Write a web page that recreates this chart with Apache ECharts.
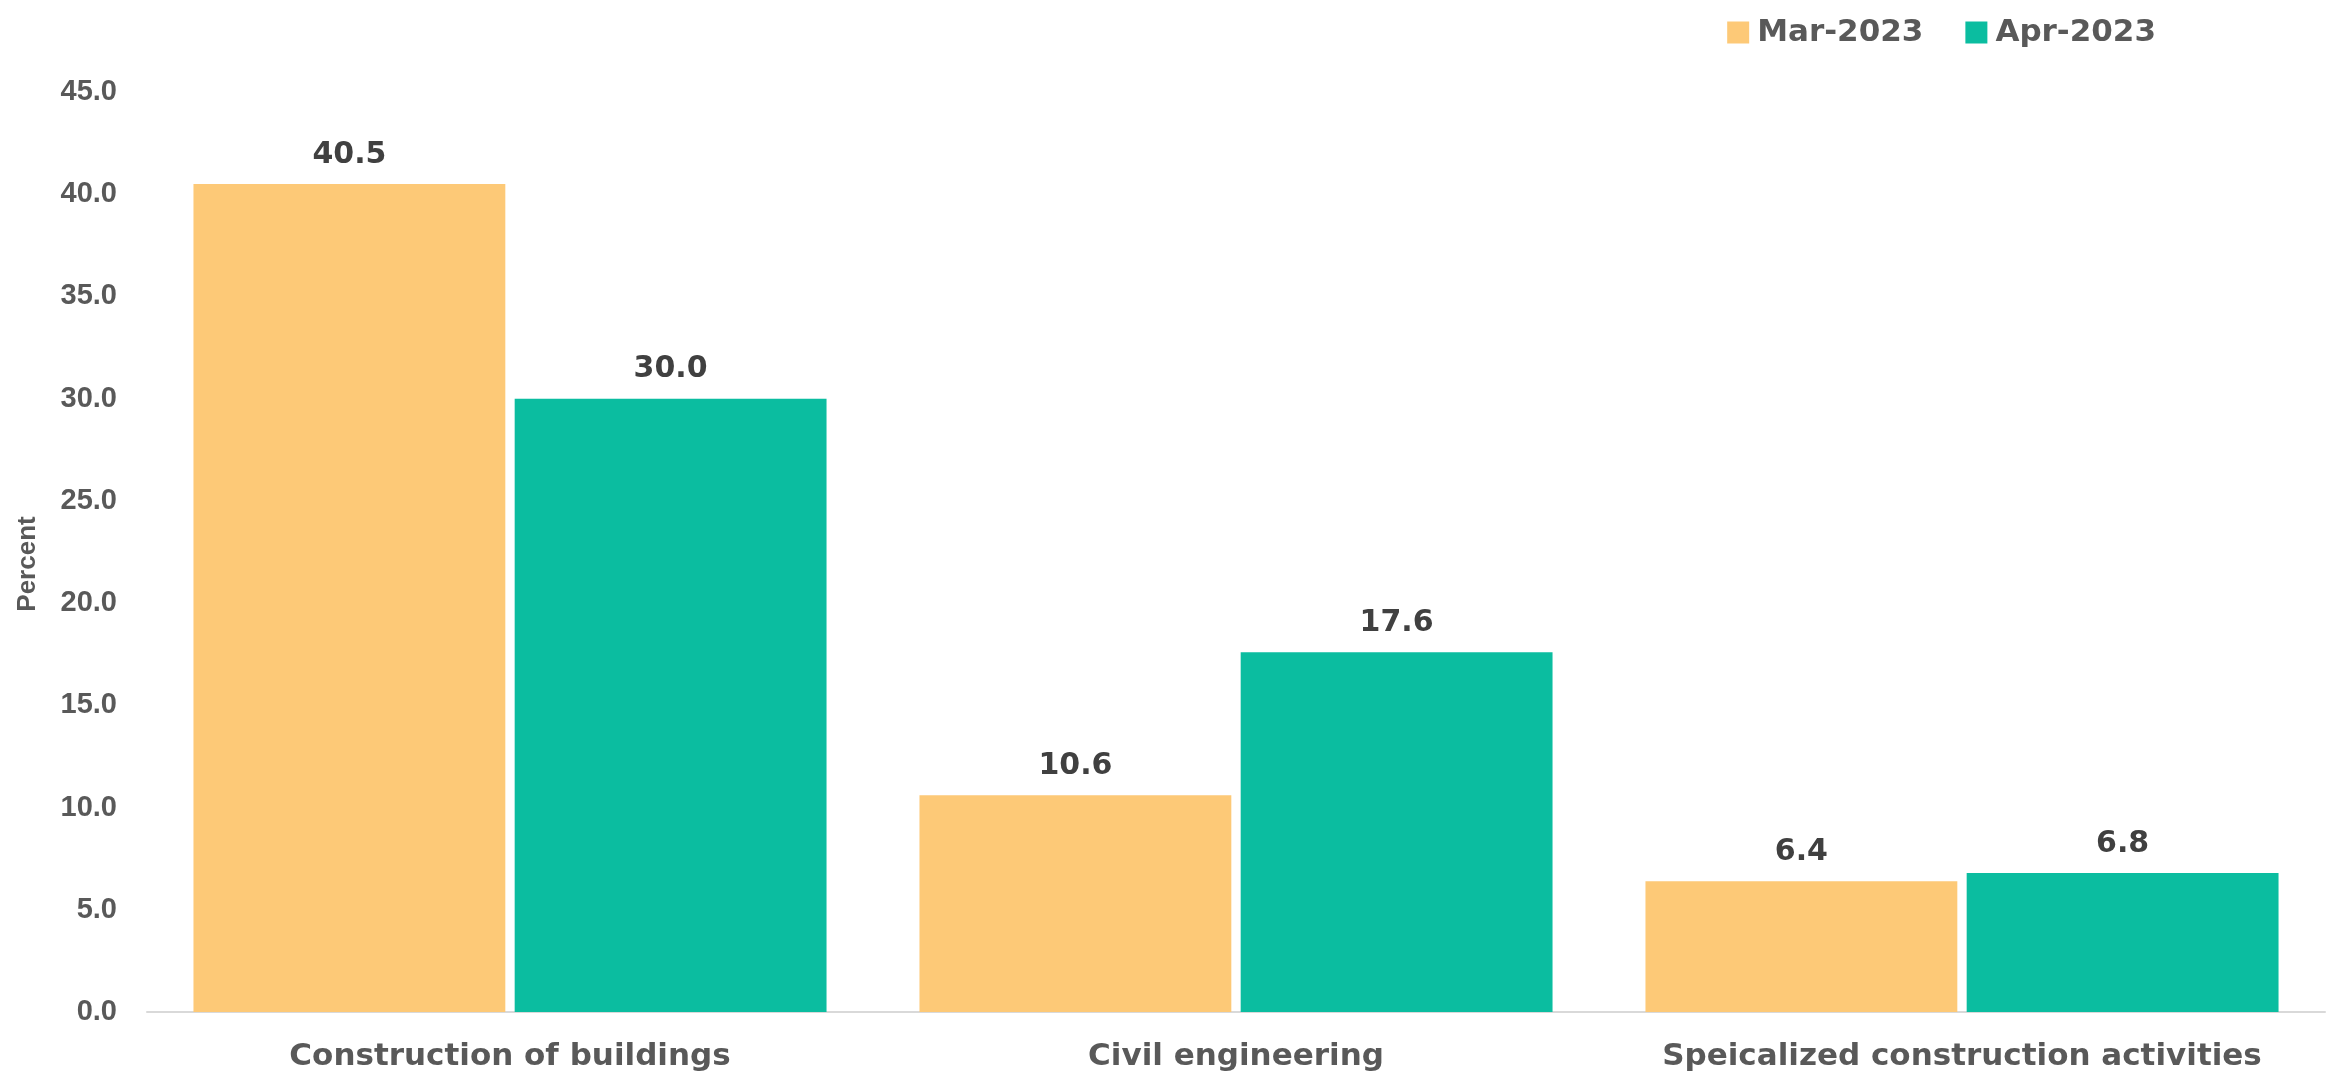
<!DOCTYPE html>
<html>
<head>
<meta charset="utf-8">
<script src="https://cdn.jsdelivr.net/npm/echarts@6/dist/echarts.min.js"></script>
<style>
  html, body { margin: 0; padding: 0; background: #ffffff; }
  #chart { width: 2333px; height: 1078px; }
</style>
</head>
<body>
<div id="chart"></div>
<script>
// Construction output share by activity, two months
const categories = ['Construction of buildings', 'Civil engineering', 'Speicalized construction activities'];
const seriesNames = ['Mar-2023', 'Apr-2023'];
const marValues = [40.5, 10.6, 6.4];
const aprValues = [30.0, 17.6, 6.8];
const seriesColors = ['#FDC977', '#0BBDA0'];

const labelFont = '"DejaVu Sans", sans-serif';
const tickFont = '"Liberation Sans", Arial, sans-serif';

const chart = echarts.init(document.getElementById('chart'));

function barSeries(name, values, color) {
  return {
    name: name,
    type: 'bar',
    data: values,
    itemStyle: { color: color },
    barGap: '3%',
    barCategoryGap: '12.8%',
    label: {
      show: true,
      position: 'top',
      distance: 14,
      formatter: p => p.value.toFixed(1),
      color: '#404040',
      fontFamily: labelFont,
      fontWeight: 'bold',
      fontSize: 30
    }
  };
}

chart.setOption({
  animation: false,
  backgroundColor: '#ffffff',
  legend: {
    data: seriesNames,
    top: 12,
    right: 172,
    itemWidth: 22,
    itemHeight: 22,
    itemGap: 42,
    icon: 'rect',
    textStyle: {
      color: '#595959',
      fontFamily: labelFont,
      fontWeight: 'bold',
      fontSize: 31,
      padding: [0, 0, 0, 3]
    }
  },
  grid: { left: 147, right: 8, top: 92, bottom: 66, containLabel: false },
  xAxis: {
    type: 'category',
    data: categories,
    axisLine: { lineStyle: { color: '#D9D9D9', width: 2 } },
    axisTick: { show: false },
    axisLabel: {
      interval: 0,
      color: '#595959',
      fontFamily: labelFont,
      fontWeight: 'bold',
      fontSize: 31,
      margin: 29
    }
  },
  yAxis: {
    type: 'value',
    min: 0,
    max: 45,
    interval: 5,
    name: 'Percent',
    nameLocation: 'middle',
    nameGap: 106,
    nameTextStyle: {
      color: '#595959',
      fontFamily: tickFont,
      fontWeight: 'bold',
      fontSize: 26,
      padding: [0, 24, 0, 0]
    },
    axisLine: { show: false },
    axisTick: { show: false },
    splitLine: { show: false },
    axisLabel: {
      color: '#595959',
      fontFamily: tickFont,
      fontWeight: 'bold',
      fontSize: 29,
      margin: 30,
      formatter: v => v.toFixed(1)
    }
  },
  series: [
    barSeries(seriesNames[0], marValues, seriesColors[0]),
    barSeries(seriesNames[1], aprValues, seriesColors[1])
  ]
});
</script>
</body>
</html>
